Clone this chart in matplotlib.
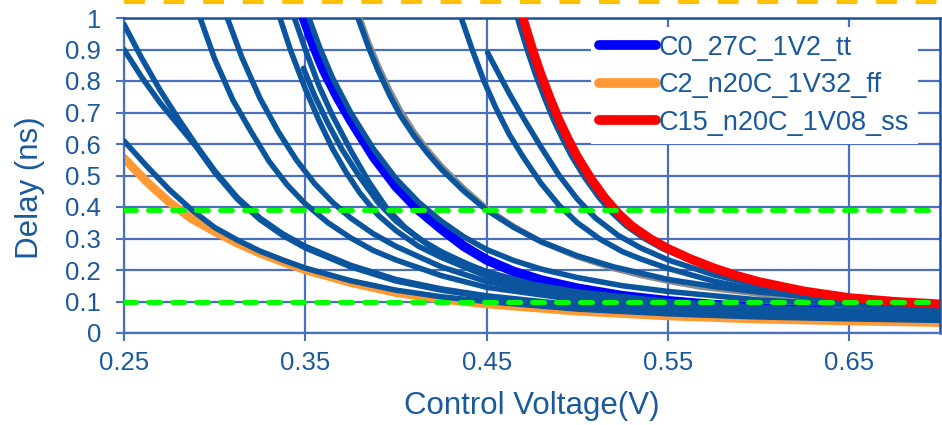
import matplotlib
matplotlib.use("Agg")
import matplotlib.pyplot as plt

# ---------------- data ----------------
# dark-blue family of delay curves: control voltage (V) -> delay (ns)
v_a = [0.25, 0.26, 0.27, 0.28, 0.29, 0.30, 0.3125, 0.325, 0.3375, 0.35, 0.375, 0.40, 0.425, 0.45, 0.50, 0.55, 0.60, 0.65, 0.70]
d_a = [0.98, 0.87, 0.77, 0.68, 0.595, 0.515, 0.43, 0.365, 0.315, 0.275, 0.215, 0.17, 0.14, 0.118, 0.088, 0.07, 0.058, 0.05, 0.045]

v_b = [0.25, 0.26, 0.27, 0.28, 0.29, 0.30, 0.3125, 0.325, 0.3375, 0.35, 0.375, 0.40, 0.425, 0.45, 0.50, 0.55, 0.60, 0.65, 0.70]
d_b = [0.90, 0.81, 0.73, 0.66, 0.59, 0.51, 0.425, 0.36, 0.31, 0.27, 0.21, 0.165, 0.136, 0.114, 0.085, 0.067, 0.056, 0.048, 0.043]

v_c = [0.25, 0.2625, 0.275, 0.2875, 0.30, 0.3125, 0.325, 0.3375, 0.35, 0.375, 0.40, 0.425, 0.45, 0.50, 0.55, 0.60, 0.65, 0.70]
d_c = [0.61, 0.53, 0.455, 0.39, 0.335, 0.295, 0.26, 0.232, 0.206, 0.166, 0.136, 0.115, 0.10, 0.076, 0.061, 0.051, 0.045, 0.04]

v_d = [0.292, 0.30, 0.31, 0.32, 0.33, 0.34, 0.35, 0.3625, 0.375, 0.3875, 0.40, 0.425, 0.45, 0.50, 0.55, 0.60, 0.65, 0.70]
d_d = [1.0, 0.87, 0.74, 0.64, 0.545, 0.47, 0.41, 0.35, 0.302, 0.262, 0.232, 0.182, 0.145, 0.105, 0.082, 0.068, 0.058, 0.052]

v_e = [0.307, 0.315, 0.325, 0.335, 0.345, 0.355, 0.365, 0.375, 0.3875, 0.40, 0.425, 0.45, 0.50, 0.55, 0.60, 0.65, 0.70]
d_e = [1.0, 0.875, 0.745, 0.64, 0.55, 0.475, 0.415, 0.365, 0.315, 0.275, 0.21, 0.163, 0.115, 0.09, 0.075, 0.065, 0.058]

v_f = [0.336, 0.342, 0.35, 0.3575, 0.365, 0.3725, 0.38, 0.39, 0.40, 0.4125, 0.425, 0.45, 0.475, 0.50, 0.55, 0.60, 0.65, 0.70]
d_f = [1.0, 0.895, 0.775, 0.675, 0.585, 0.51, 0.445, 0.375, 0.325, 0.275, 0.24, 0.18, 0.148, 0.125, 0.097, 0.08, 0.068, 0.06]

v_g = [0.344, 0.35, 0.3575, 0.365, 0.375, 0.385, 0.395, 0.405, 0.4175, 0.43, 0.45, 0.475, 0.50, 0.55, 0.60, 0.65, 0.70]
d_g = [1.0, 0.90, 0.785, 0.69, 0.58, 0.48, 0.395, 0.335, 0.28, 0.24, 0.195, 0.155, 0.13, 0.10, 0.082, 0.07, 0.062]

v_n = [0.349, 0.355, 0.3625, 0.37, 0.38, 0.39, 0.40, 0.4125, 0.425, 0.45, 0.475, 0.50, 0.55, 0.60, 0.65, 0.70]
d_n = [0.84, 0.755, 0.665, 0.585, 0.495, 0.415, 0.355, 0.30, 0.258, 0.19, 0.152, 0.128, 0.098, 0.08, 0.068, 0.06]

v_h = [0.352, 0.358, 0.365, 0.375, 0.3875, 0.40, 0.4125, 0.425, 0.4375, 0.45, 0.465, 0.48, 0.50, 0.525, 0.55, 0.60, 0.65, 0.70]
d_h = [1.0, 0.905, 0.81, 0.70, 0.585, 0.49, 0.415, 0.355, 0.305, 0.265, 0.23, 0.203, 0.176, 0.15, 0.132, 0.105, 0.088, 0.077]

v_j = [0.379, 0.385, 0.39, 0.3965, 0.4025, 0.41, 0.4175, 0.425, 0.4375, 0.45, 0.465, 0.48, 0.50, 0.52, 0.535, 0.55, 0.575, 0.60, 0.65, 0.70]
d_j = [1.0, 0.905, 0.835, 0.755, 0.69, 0.625, 0.57, 0.52, 0.45, 0.39, 0.335, 0.29, 0.245, 0.21, 0.19, 0.17, 0.148, 0.13, 0.105, 0.09]

v_k = [0.436, 0.442, 0.4485, 0.455, 0.4625, 0.47, 0.48, 0.49, 0.50, 0.5125, 0.525, 0.535, 0.55, 0.575, 0.60, 0.625, 0.65, 0.70]
d_k = [1.0, 0.90, 0.80, 0.715, 0.63, 0.56, 0.475, 0.405, 0.35, 0.298, 0.258, 0.235, 0.205, 0.165, 0.135, 0.115, 0.10, 0.085]

v_l = [0.4505, 0.456, 0.4625, 0.4705, 0.48, 0.49, 0.50, 0.51, 0.5225, 0.535, 0.55, 0.575, 0.60, 0.625, 0.65, 0.70]
d_l = [0.89, 0.83, 0.76, 0.68, 0.59, 0.50, 0.425, 0.365, 0.31, 0.27, 0.232, 0.185, 0.15, 0.125, 0.108, 0.088]

v_m = [0.467, 0.472, 0.477, 0.482, 0.487, 0.492, 0.497, 0.5045, 0.512, 0.5195, 0.527, 0.537, 0.547, 0.575, 0.60, 0.65, 0.70]
d_m = [1.0, 0.905, 0.82, 0.745, 0.675, 0.615, 0.56, 0.49, 0.43, 0.38, 0.34, 0.30, 0.268, 0.2, 0.158, 0.108, 0.088]

# gray curve hiding mostly under curve J
v_gray = [0.38, 0.385, 0.39, 0.3965, 0.4025, 0.41, 0.4175, 0.425, 0.4375, 0.45, 0.465, 0.48, 0.50, 0.52, 0.535, 0.55, 0.568, 0.596, 0.625, 0.651, 0.70]
d_gray = [1.0, 0.92, 0.85, 0.77, 0.705, 0.637, 0.58, 0.53, 0.458, 0.395, 0.338, 0.29, 0.242, 0.205, 0.183, 0.165, 0.146, 0.127, 0.103, 0.082, 0.057]

# highlighted corners
v_tt = [0.349, 0.355, 0.36, 0.3675, 0.375, 0.3875, 0.40, 0.4125, 0.425, 0.4375, 0.45, 0.465, 0.48, 0.50, 0.525, 0.55, 0.575, 0.60, 0.65, 0.70]
d_tt = [1.0, 0.905, 0.835, 0.75, 0.675, 0.56, 0.465, 0.39, 0.33, 0.275, 0.232, 0.195, 0.168, 0.142, 0.118, 0.102, 0.09, 0.08, 0.066, 0.058]

v_ff = [0.25, 0.2625, 0.275, 0.2875, 0.30, 0.3125, 0.325, 0.3375, 0.35, 0.375, 0.40, 0.425, 0.45, 0.50, 0.55, 0.60, 0.65, 0.70]
d_ff = [0.555, 0.48, 0.415, 0.362, 0.322, 0.285, 0.253, 0.226, 0.2, 0.16, 0.128, 0.107, 0.092, 0.069, 0.054, 0.044, 0.038, 0.033]

v_ss = [0.470, 0.475, 0.48, 0.485, 0.49, 0.495, 0.50, 0.5075, 0.515, 0.5225, 0.53, 0.54, 0.55, 0.5625, 0.575, 0.5875, 0.60, 0.625, 0.65, 0.675, 0.70]
d_ss = [1.0, 0.905, 0.82, 0.745, 0.675, 0.615, 0.56, 0.49, 0.43, 0.38, 0.34, 0.30, 0.268, 0.235, 0.207, 0.183, 0.163, 0.133, 0.112, 0.10, 0.092]

legend_labels = ["C0_27C_1V2_tt", "C2_n20C_1V32_ff", "C15_n20C_1V08_ss"]

# reference levels
green_levels = [0.39, 0.1]
orange_level = 1.05

x_ticks = [0.25, 0.35, 0.45, 0.55, 0.65]
x_tick_labels = ["0.25", "0.35", "0.45", "0.55", "0.65"]
y_ticks = [0, 0.1, 0.2, 0.3, 0.4, 0.5, 0.6, 0.7, 0.8, 0.9, 1.0]
y_tick_labels = ["0", "0.1", "0.2", "0.3", "0.4", "0.5", "0.6", "0.7", "0.8", "0.9", "1"]

# ---------------- style ----------------
plt.rcParams['font.family'] = ['Liberation Sans', 'DejaVu Sans']
TXT = '#1A5A9C'
DARK = '#0A559E'
GRID = '#4A6FC1'
FRAME = '#1F4F99'

fig = plt.figure(figsize=(9.42, 4.25), dpi=100)
ax = fig.add_axes([124 / 942, 92 / 425, 816 / 942, 315 / 425])
ax.set_xlim(0.25, 0.70)
ax.set_ylim(0, 1)

ax.grid(True, color=GRID, lw=1.6)
ax.set_axisbelow(True)

l_ff, = ax.plot(v_ff, d_ff, color='#FF9933', lw=6.2, solid_capstyle='round', zorder=2)
l_tt, = ax.plot(v_tt, d_tt, color='#0000FF', lw=7.0, solid_capstyle='round', zorder=3)
ax.plot(v_gray, d_gray, color='#8C8C8C', lw=4.2, solid_capstyle='round', zorder=3.5)

dark = [(v_a, d_a), (v_b, d_b), (v_c, d_c), (v_d, d_d), (v_e, d_e), (v_f, d_f),
        (v_g, d_g), (v_n, d_n), (v_h, d_h), (v_j, d_j), (v_k, d_k), (v_l, d_l), (v_m, d_m)]
for v, d in dark:
    ax.plot(v, d, color=DARK, lw=4.0, solid_capstyle='round', zorder=4)

l_ss, = ax.plot(v_ss, d_ss, color='#FF0000', lw=6.5, solid_capstyle='round', zorder=5)

for lvl in green_levels:
    ax.axhline(lvl, color='#00FF00', lw=3.6, dashes=(2.4, 2.4), dash_capstyle='round', zorder=6)
ax.axhline(orange_level, color='#FFC000', lw=3.0, dashes=(5.0, 4.5), dash_capstyle='butt',
           clip_on=False, zorder=6)

ax.set_xticks(x_ticks)
ax.set_xticklabels(x_tick_labels)
ax.set_yticks(y_ticks)
ax.set_yticklabels(y_tick_labels)
ax.tick_params(axis='both', colors=GRID, labelcolor=TXT, labelsize=18.5, length=6, width=1.5)
ax.tick_params(axis='y', pad=10.5)
ax.tick_params(axis='x', pad=7.0)

for s in ('left', 'bottom'):
    ax.spines[s].set_color(GRID)
    ax.spines[s].set_linewidth(1.6)
for s in ('top', 'right'):
    ax.spines[s].set_color(FRAME)
    ax.spines[s].set_linewidth(1.8)

fig.text(30 / 942, 1 - 188 / 425, 'Delay (ns)', rotation=90, ha='center', va='center',
         fontsize=22.5, color=TXT)
fig.text(532 / 942, 1 - 406 / 425, 'Control Voltage(V)', ha='center', va='center',
         fontsize=22.5, color=TXT)

leg = ax.legend([l_tt, l_ff, l_ss], legend_labels, loc='upper left',
                bbox_to_anchor=(0.572, 0.972), fontsize=19.5, frameon=True,
                fancybox=False, framealpha=1, facecolor='white', edgecolor='none',
                handlelength=2.1, handletextpad=0.12, labelspacing=0.42, borderpad=0.3,
                borderaxespad=0)
for t in leg.get_texts():
    t.set_color(TXT)
for ln in leg.get_lines():
    ln.set_linewidth(7)
    ln.set_solid_capstyle('round')
leg.set_zorder(10)

fig.savefig('out.png', dpi=100)
